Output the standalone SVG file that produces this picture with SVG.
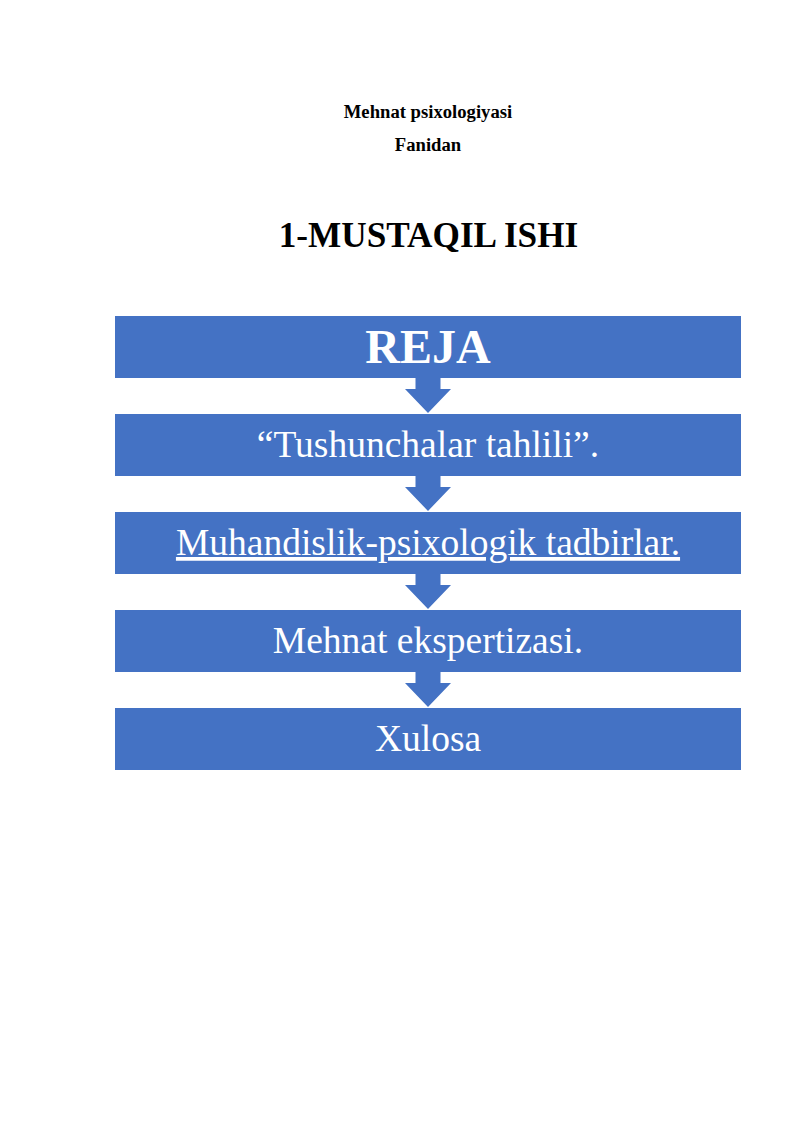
<svg xmlns="http://www.w3.org/2000/svg" width="800" height="1131" viewBox="0 0 800 1131">
  <style>
    .box { fill: #4472C4; }
    .arrow { fill: #4472C4; }
    .lbl { font-family: "Liberation Serif", "Times New Roman", serif; font-size: 37.5px; fill: #FFFFFF; text-anchor: middle; }
    .hdr { font-family: "Liberation Serif", "Times New Roman", serif; font-weight: bold; fill: #000000; text-anchor: middle; }
  </style>
  <rect width="800" height="1131" fill="#FFFFFF"/>
  <g id="header">
    <text class="hdr" x="428" y="118" font-size="18.67">Mehnat psixologiyasi</text>
    <text class="hdr" x="428" y="151" font-size="18.67">Fanidan</text>
    <text class="hdr" x="428.5" y="247" font-size="35.2">1-MUSTAQIL ISHI</text>
  </g>
  <g id="connectors">
    <path class="arrow" d="M415.5,378 H440.5 V389 H451 L428,413 L405,389 H415.5 Z"/>
    <path class="arrow" d="M415.5,476 H440.5 V487 H451 L428,511 L405,487 H415.5 Z"/>
    <path class="arrow" d="M415.5,574 H440.5 V585 H451 L428,609 L405,585 H415.5 Z"/>
    <path class="arrow" d="M415.5,672 H440.5 V683 H451 L428,707 L405,683 H415.5 Z"/>
  </g>
  <g id="node-reja">
    <rect class="box" x="115" y="316" width="626" height="62"/>
    <text class="lbl" x="428" y="363" font-weight="bold" style="font-size:48px">REJA</text>
  </g>
  <g id="node-tushunchalar">
    <rect class="box" x="115" y="414" width="626" height="62"/>
    <text class="lbl" x="428" y="457">“Tushunchalar tahlili”.</text>
  </g>
  <g id="node-muhandislik">
    <rect class="box" x="115" y="512" width="626" height="62"/>
    <text class="lbl" x="428" y="555" text-decoration="underline">Muhandislik-psixologik tadbirlar.</text>
  </g>
  <g id="node-mehnat">
    <rect class="box" x="115" y="610" width="626" height="62"/>
    <text class="lbl" x="428" y="653">Mehnat ekspertizasi.</text>
  </g>
  <g id="node-xulosa">
    <rect class="box" x="115" y="708" width="626" height="62"/>
    <text class="lbl" x="428" y="751">Xulosa</text>
  </g>
</svg>
